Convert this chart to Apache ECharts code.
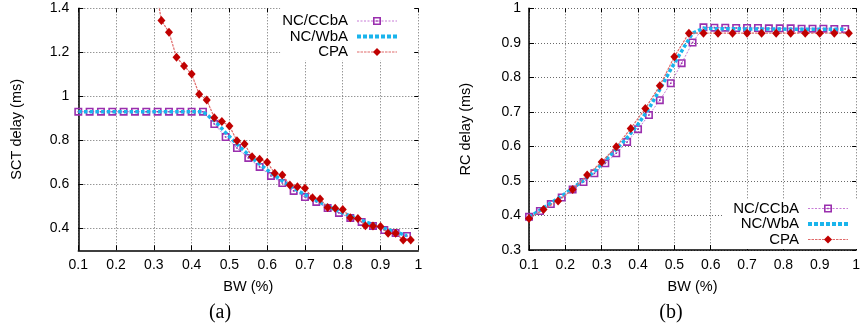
<!DOCTYPE html>
<html>
<head>
<meta charset="utf-8">
<script src="https://cdn.jsdelivr.net/npm/echarts@6/dist/echarts.min.js"></script>
<style>
  html, body { margin: 0; padding: 0; background: #fff; }
  #chart { width: 863px; height: 329px; }
</style>
</head>
<body>
<div id="chart"></div>
<script>
// Bandwidth sample points (fraction of link bandwidth)
const bwNC = [0.10, 0.13, 0.16, 0.19, 0.22, 0.25, 0.28, 0.31, 0.34, 0.37,
              0.40, 0.43, 0.46, 0.49, 0.52, 0.55, 0.58, 0.61, 0.64, 0.67,
              0.70, 0.73, 0.76, 0.79, 0.82, 0.85, 0.88, 0.91, 0.94, 0.97];
const bwCPAsct = [0.30, 0.32, 0.34, 0.36, 0.38, 0.40, 0.42, 0.44, 0.46, 0.48,
                  0.50, 0.52, 0.54, 0.56, 0.58, 0.60, 0.62, 0.64, 0.66, 0.68,
                  0.70, 0.72, 0.74, 0.76, 0.78, 0.80, 0.82, 0.84, 0.86, 0.88,
                  0.90, 0.92, 0.94, 0.96, 0.98];
const bwCPArc = [0.10, 0.14, 0.18, 0.22, 0.26, 0.30, 0.34, 0.38, 0.42, 0.46,
                 0.50, 0.54, 0.58, 0.62, 0.66, 0.70, 0.74, 0.78, 0.82, 0.86,
                 0.90, 0.94, 0.98];

// (a) SCT delay (ms)
const sctCCbA = [0.93, 0.93, 0.93, 0.93, 0.93, 0.93, 0.93, 0.93, 0.93, 0.93,
                 0.93, 0.93, 0.874, 0.815, 0.765, 0.72, 0.679, 0.638, 0.606, 0.57,
                 0.542, 0.52, 0.492, 0.47, 0.447, 0.429, 0.411, 0.392, 0.379, 0.365];
const sctWbA = [0.93, 0.93, 0.93, 0.93, 0.93, 0.93, 0.93, 0.93, 0.93, 0.93,
                0.93, 0.93, 0.89, 0.835, 0.782, 0.735, 0.692, 0.652, 0.616, 0.582,
                0.553, 0.527, 0.5, 0.477, 0.456, 0.436, 0.417, 0.399, 0.383, 0.367];
const sctCPA = [1.54, 1.345, 1.291, 1.177, 1.138, 1.101, 1.009, 0.983, 0.903, 0.885,
                0.865, 0.798, 0.783, 0.725, 0.714, 0.70, 0.65, 0.642, 0.597, 0.589,
                0.582, 0.539, 0.533, 0.495, 0.491, 0.486, 0.448, 0.445, 0.412, 0.411,
                0.408, 0.377, 0.377, 0.347, 0.347];

// (b) RC delay (ms)
const rcCCbA = [0.396, 0.413, 0.433, 0.452, 0.475, 0.497, 0.522, 0.551, 0.580, 0.613,
                0.65, 0.691, 0.734, 0.783, 0.841, 0.901, 0.945, 0.944, 0.944, 0.943,
                0.943, 0.943, 0.942, 0.942, 0.942, 0.941, 0.941, 0.941, 0.940, 0.940];
const rcWbA = [0.395, 0.415, 0.436, 0.456, 0.479, 0.502, 0.528, 0.560, 0.592, 0.625,
               0.664, 0.710, 0.765, 0.823, 0.876, 0.928, 0.942, 0.941, 0.941, 0.941,
               0.940, 0.940, 0.940, 0.940, 0.939, 0.939, 0.939, 0.939, 0.939, 0.939];
const rcCPA = [0.391, 0.417, 0.442, 0.475, 0.517, 0.555, 0.599, 0.652, 0.71, 0.776,
               0.86, 0.928, 0.928, 0.928, 0.928, 0.928, 0.928, 0.928, 0.928, 0.928,
               0.928, 0.928, 0.928];

// Tick labels
const sctTicks = [0.4, 0.6, 0.8, 1, 1.2, 1.4];
const seriesNames = ['NC/CCbA', 'NC/WbA', 'CPA'];
const panelTags = ['(a)', '(b)'];

const SANS = '"Liberation Sans", Arial, Helvetica, sans-serif';
const SERIF = '"Liberation Serif", "Times New Roman", serif';
const gridDash = { color: '#6a6a6a', width: 1, type: [1, 2] };

const COL_CCBA = '#9a2fae', LINE_CCBA = '#c77ad6';
const COL_WBA = '#1ab4ec';
const COL_CPA = '#c00000', LINE_CPA = '#e06a6a';

const pair = (xs, ys) => xs.map((x, i) => [x, ys[i]]);

// open square with a centre dot
const squareDot = 'path://M0,0H10V10H0Z M2,2V8H8V2Z M4,4H6V6H4Z';

function bottomAxis(gi) {
  return {
    type: 'value', gridIndex: gi, min: 0.1, max: 1, interval: 0.1,
    axisLine: { show: true, onZero: false, lineStyle: { color: '#000', width: 1.5 } },
    axisTick: { show: true, inside: true, length: 5, lineStyle: { color: '#000' } },
    axisLabel: { margin: 8, color: '#000', fontSize: 14, fontFamily: SANS },
    splitLine: { show: true, lineStyle: gridDash },
    name: 'BW (%)', nameLocation: 'middle', nameGap: 29,
    nameTextStyle: { color: '#000', fontSize: 14.5, fontFamily: SANS }
  };
}
function topAxis(gi) {
  return {
    type: 'value', gridIndex: gi, position: 'top', min: 0.1, max: 1, interval: 0.1,
    axisLine: { show: false }, axisLabel: { show: false }, splitLine: { show: false },
    axisTick: { show: true, inside: true, length: 4, lineStyle: { color: '#000' } }
  };
}

const ySct = {
  type: 'value', gridIndex: 0, min: 0.3, max: 1.4,
  axisLine: { show: true, onZero: false, lineStyle: { color: '#000', width: 1.5 } },
  axisTick: { show: true, inside: true, length: 5, customValues: sctTicks, lineStyle: { color: '#000' } },
  axisLabel: { margin: 9, color: '#000', fontSize: 14, fontFamily: SANS, customValues: sctTicks },
  splitLine: { show: true, lineStyle: gridDash },
  name: 'SCT delay (ms)', nameLocation: 'middle', nameGap: 54,
  nameTextStyle: { color: '#000', fontSize: 14.5, fontFamily: SANS }
};
const ySctMirror = {
  type: 'value', gridIndex: 0, position: 'right', min: 0.3, max: 1.4,
  axisLine: { show: false }, axisLabel: { show: false }, splitLine: { show: false },
  axisTick: { show: true, inside: true, length: 4, customValues: sctTicks, lineStyle: { color: '#000' } }
};
const yRc = {
  type: 'value', gridIndex: 1, min: 0.3, max: 1, interval: 0.1,
  axisLine: { show: true, onZero: false, lineStyle: { color: '#000', width: 1.5 } },
  axisTick: { show: true, inside: true, length: 5, lineStyle: { color: '#000' } },
  axisLabel: { margin: 8, color: '#000', fontSize: 14, fontFamily: SANS },
  splitLine: { show: true, lineStyle: gridDash },
  name: 'RC delay (ms)', nameLocation: 'middle', nameGap: 56,
  nameTextStyle: { color: '#000', fontSize: 14.5, fontFamily: SANS }
};
const yRcMirror = {
  type: 'value', gridIndex: 1, position: 'right', min: 0.3, max: 1, interval: 0.1,
  axisLine: { show: false }, axisLabel: { show: false }, splitLine: { show: false },
  axisTick: { show: true, inside: true, length: 4, lineStyle: { color: '#000' } }
};

function ccbaSeries(xi, yi, data) {
  return {
    name: seriesNames[0], type: 'line', xAxisIndex: xi, yAxisIndex: yi, data,
    symbol: squareDot, symbolSize: 8, showAllSymbol: true,
    itemStyle: { color: COL_CCBA },
    lineStyle: { color: LINE_CCBA, width: 1, type: [2, 1.5] },
    z: 2
  };
}
function wbaSeries(xi, yi, data) {
  return {
    name: seriesNames[1], type: 'line', xAxisIndex: xi, yAxisIndex: yi, data,
    symbol: 'none',
    itemStyle: { color: COL_WBA },
    lineStyle: { color: COL_WBA, width: 3.5, type: [3.5, 2.2] },
    z: 3
  };
}
function cpaSeries(xi, yi, data) {
  return {
    name: seriesNames[2], type: 'line', xAxisIndex: xi, yAxisIndex: yi, data,
    symbol: 'diamond', symbolSize: [8, 9], showAllSymbol: true,
    itemStyle: { color: COL_CPA },
    lineStyle: { color: LINE_CPA, width: 1.2, type: [2.5, 1] },
    z: 4
  };
}

function legendBox(pos, padding) {
  return Object.assign({
    orient: 'vertical', align: 'right', selectedMode: false,
    itemWidth: 40, itemHeight: 10, itemGap: 0.5,
    backgroundColor: '#fff', padding,
    textStyle: { color: '#000', fontSize: 15, lineHeight: 15, fontFamily: SANS, padding: [0, 4, 0, 0] },
    data: [
      { name: seriesNames[0], lineStyle: { color: LINE_CCBA, width: 1, type: [2, 1.5] } },
      { name: seriesNames[1], itemStyle: { opacity: 0, color: 'rgba(0,0,0,0)' },
        lineStyle: { color: COL_WBA, width: 4, type: [4, 2] } },
      { name: seriesNames[2], lineStyle: { color: LINE_CPA, width: 1.2, type: [2.5, 1] } }
    ]
  }, pos);
}

const chart = echarts.init(document.getElementById('chart'), null, { renderer: 'canvas' });
chart.setOption({
  animation: false,
  backgroundColor: '#fff',
  grid: [
    { left: 78.3, right: 444.7, top: 8.3, bottom: 78.7 },
    { left: 529, right: -4.7, top: 8.3, bottom: 79 }
  ],
  xAxis: [bottomAxis(0), bottomAxis(1), topAxis(0), topAxis(1)],
  yAxis: [ySct, yRc, ySctMirror, yRcMirror],
  legend: [
    legendBox({ right: 450, top: 5.5 }, [8, 14, 1, 2]),
    legendBox({ right: -4, top: 200 }, [1, 17, 2, 10])
  ],
  graphic: [
    { type: 'text', x: 220, y: 313, style: { text: panelTags[0], fill: '#000', font: '20px ' + SERIF, align: 'center', verticalAlign: 'middle' } },
    { type: 'text', x: 671, y: 313, style: { text: panelTags[1], fill: '#000', font: '20px ' + SERIF, align: 'center', verticalAlign: 'middle' } }
  ],
  series: [
    ccbaSeries(0, 0, pair(bwNC, sctCCbA)),
    wbaSeries(0, 0, pair(bwNC, sctWbA)),
    cpaSeries(0, 0, pair(bwCPAsct, sctCPA)),
    ccbaSeries(1, 1, pair(bwNC, rcCCbA)),
    wbaSeries(1, 1, pair(bwNC, rcWbA)),
    cpaSeries(1, 1, pair(bwCPArc, rcCPA))
  ]
});
</script>
</body>
</html>
